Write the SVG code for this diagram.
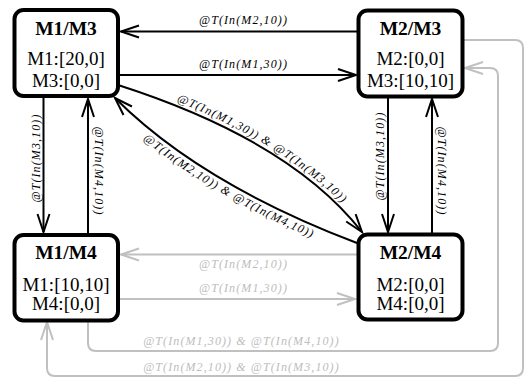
<svg xmlns="http://www.w3.org/2000/svg" width="527" height="380" viewBox="0 0 527 380">
<style>
.box{fill:#fff;stroke:#000;stroke-width:4}
.title{font-family:"Liberation Serif",Times,serif;font-weight:bold;font-size:19.5px;text-anchor:middle;fill:#000}
.body{font-family:"Liberation Serif",Times,serif;font-size:19px;text-anchor:middle;fill:#000}
.e{fill:none;stroke:#000;stroke-width:2}
.g{fill:none;stroke:#c0c0c0;stroke-width:2}
.lbl{font-family:"Liberation Serif",Times,serif;font-style:italic;font-size:12px;letter-spacing:1.1px;text-anchor:middle;fill:#000}
.glbl{font-family:"Liberation Serif",Times,serif;font-style:italic;font-size:12px;letter-spacing:1.1px;text-anchor:middle;fill:#bdbdbd}
</style>
<defs>
<marker id="ab" markerUnits="userSpaceOnUse" markerWidth="24" markerHeight="16" refX="19" refY="7" orient="auto" overflow="visible">
<path d="M1,1 L19,7 L1,13" fill="none" stroke="#000" stroke-width="2"/>
</marker>
<marker id="ag" markerUnits="userSpaceOnUse" markerWidth="24" markerHeight="16" refX="19" refY="7" orient="auto" overflow="visible">
<path d="M1,1 L19,7 L1,13" fill="none" stroke="#c0c0c0" stroke-width="2"/>
</marker>
<path id="tp1" d="M119.4,80.6 Q291.1,136.3 365.6,229.2"/>
<path id="tp2" d="M106.5,106.5 Q194.4,194.3 352.7,254.2"/>
</defs>

<g id="connectors">
<path class="e" d="M358,31.5 H121" marker-end="url(#ab)"/>
<text class="lbl" x="243.5" y="23.5">@T(In(M2,10))</text>
<path class="e" d="M118,75 H356" marker-end="url(#ab)"/>
<text class="lbl" x="243.5" y="67.5">@T(In(M1,30))</text>

<path class="e" d="M43.5,97 V232" marker-end="url(#ab)"/>
<text class="lbl" transform="translate(39.5,158) rotate(-90)">@T(In(M3,10))</text>
<path class="e" d="M88,234 V99" marker-end="url(#ab)"/>
<text class="lbl" transform="translate(95,171) rotate(90)">@T(In(M4,10))</text>

<path class="e" d="M388,98 V232" marker-end="url(#ab)"/>
<text class="lbl" transform="translate(383.5,156) rotate(-90)">@T(In(M3,10))</text>
<path class="e" d="M432,233 V99" marker-end="url(#ab)"/>
<text class="lbl" transform="translate(438,171) rotate(90)">@T(In(M4,10))</text>

<path class="e" d="M118,85 Q290,140 362,232" marker-end="url(#ab)"/>
<text class="lbl"><textPath href="#tp1" startOffset="54.5%">@T(In(M1,30)) &amp; @T(In(M3,10))</textPath></text>
<path class="e" d="M357,243 Q200.5,183.5 115,98" marker-end="url(#ab)"/>
<text class="lbl"><textPath href="#tp2" startOffset="51%">@T(In(M2,10)) &amp; @T(In(M4,10))</textPath></text>

<path class="g" d="M357,254.5 H121" marker-end="url(#ag)"/>
<text class="glbl" x="243.5" y="267.5">@T(In(M2,10))</text>
<path class="g" d="M118,299 H355" marker-end="url(#ag)"/>
<text class="glbl" x="243.5" y="292">@T(In(M1,30))</text>

<path class="g" d="M88,322 V343 Q88,351 96,351 H490 Q498,351 498,343 V76 Q498,68 490,68 H465" marker-end="url(#ag)"/>
<text class="glbl" x="241.5" y="345">@T(In(M1,30)) &amp; @T(In(M4,10))</text>
<path class="g" d="M463,40 H515 Q523,40 523,48 V368 Q523,376 515,376 H55 Q47,376 47,368 V322" marker-end="url(#ag)"/>
<text class="glbl" x="241.5" y="371">@T(In(M2,10)) &amp; @T(In(M3,10))</text>
</g>

<g id="M1M3">
<rect class="box" x="14.5" y="10" width="103.5" height="86" rx="9"/>
<text class="title" x="66" y="35">M1/M3</text>
<text class="body" x="66" y="64.5">M1:[20,0]</text>
<text class="body" x="66" y="86.5">M3:[0,0]</text>
</g>
<g id="M2M3">
<rect class="box" x="358.5" y="10.5" width="104" height="86" rx="9"/>
<text class="title" x="410.5" y="35">M2/M3</text>
<text class="body" x="410.5" y="64.5">M2:[0,0]</text>
<text class="body" x="410.5" y="86.5">M3:[10,10]</text>
</g>
<g id="M1M4">
<rect class="box" x="14.5" y="235" width="103.5" height="85.5" rx="9"/>
<text class="title" x="66" y="259">M1/M4</text>
<text class="body" x="66" y="290.5">M1:[10,10]</text>
<text class="body" x="66" y="310">M4:[0,0]</text>
</g>
<g id="M2M4">
<rect class="box" x="358.5" y="234.5" width="104" height="85" rx="9"/>
<text class="title" x="410.5" y="259">M2/M4</text>
<text class="body" x="410.5" y="290.5">M2:[0,0]</text>
<text class="body" x="410.5" y="310">M4:[0,0]</text>
</g>
</svg>
